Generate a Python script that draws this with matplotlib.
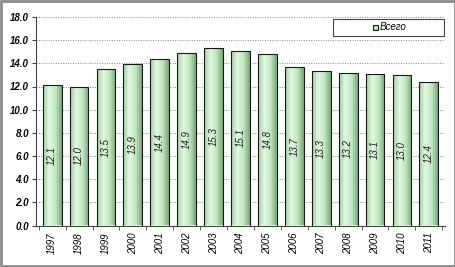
import matplotlib.pyplot as plt
import matplotlib.colors as mcolors
import numpy as np
from matplotlib.patches import Rectangle

years = ['1997', '1998', '1999', '2000', '2001', '2002', '2003', '2004',
         '2005', '2006', '2007', '2008', '2009', '2010', '2011']
values = [12.1, 12.0, 13.5, 13.9, 14.4, 14.9, 15.3, 15.1,
          14.8, 13.7, 13.3, 13.2, 13.1, 13.0, 12.4]
series_name = 'Всего'
y_ticks = [0, 2, 4, 6, 8, 10, 12, 14, 16, 18]

plt.rcParams['font.family'] = ['Liberation Sans', 'DejaVu Sans']

fig = plt.figure(figsize=(4.56, 2.67), dpi=100)
ax = fig.add_axes([36 / 456, 1 - 225.5 / 267, 409 / 456, 208.5 / 267])

# outer frame
fig.patches.append(Rectangle((0.002, 0.003), 0.995, 0.993, transform=fig.transFigure,
                             fill=False, edgecolor='#8c8c8c', linewidth=2))

x = np.arange(len(years))
bars = ax.bar(x, values, width=0.7, color='none', edgecolor='#1a1a1a', linewidth=0.8, zorder=3)

# green gradient fill for each bar
cmap = mcolors.LinearSegmentedColormap.from_list(
    'bar', ['#a0cfa0', '#e2f8e2', '#c0e6c0', '#78a878'])
grad = np.linspace(0, 1, 64).reshape(1, -1)
for b in bars:
    im = ax.imshow(grad, cmap=cmap, aspect='auto', zorder=2,
                   extent=[b.get_x(), b.get_x() + b.get_width(), 0, b.get_height()])
    im.set_clip_path(b)

for xi, v in zip(x, values):
    ax.text(xi, v / 2, f'{v:.1f}', rotation=90, ha='center', va='center',
            fontsize=7, style='italic', color='#222222', zorder=4)

ax.set_xlim(-0.6, len(years) - 0.4)
ax.set_ylim(0, 18)
ax.set_yticks(y_ticks)
ax.set_yticklabels([f'{t:.1f}' for t in y_ticks], fontsize=7, style='italic', fontweight='bold')
ax.set_xticks(x)
ax.set_xticklabels(years, rotation=90, fontsize=7, style='italic')
ax.set_xticks(np.arange(len(years) + 1) - 0.5, minor=True)
ax.tick_params(axis='x', which='major', length=0, pad=5)
ax.tick_params(axis='x', which='minor', length=3, color='#444444')
ax.tick_params(axis='y', length=3, color='#444444', pad=2)

ax.grid(axis='y', linestyle=(0, (1, 1.5)), color='#888888', linewidth=0.7, zorder=0)
ax.set_axisbelow(True)
for s in ['top', 'right']:
    ax.spines[s].set_visible(False)
ax.spines['left'].set_color('#444444')
ax.spines['bottom'].set_color('#444444')

# legend box (wide, entry centred)
lx0, lx1 = (333 - 36) / 409, (444 - 36) / 409
ly0, ly1 = (225.5 - 36) / 208.5, (225.5 - 19) / 208.5
ax.add_patch(Rectangle((lx0, ly0), lx1 - lx0, ly1 - ly0, transform=ax.transAxes,
                       facecolor='white', edgecolor='#444444', linewidth=0.8, zorder=5))
ax.add_patch(Rectangle((0.824, (ly0 + ly1) / 2 - 0.012), 0.011, 0.024, transform=ax.transAxes,
                       facecolor='#c0e6c0', edgecolor='#1a1a1a', linewidth=0.8, zorder=6))
ax.text(0.84, (ly0 + ly1) / 2, series_name, transform=ax.transAxes, ha='left', va='center',
        fontsize=7, style='italic', zorder=6)

fig.savefig('out.png', dpi=100)
